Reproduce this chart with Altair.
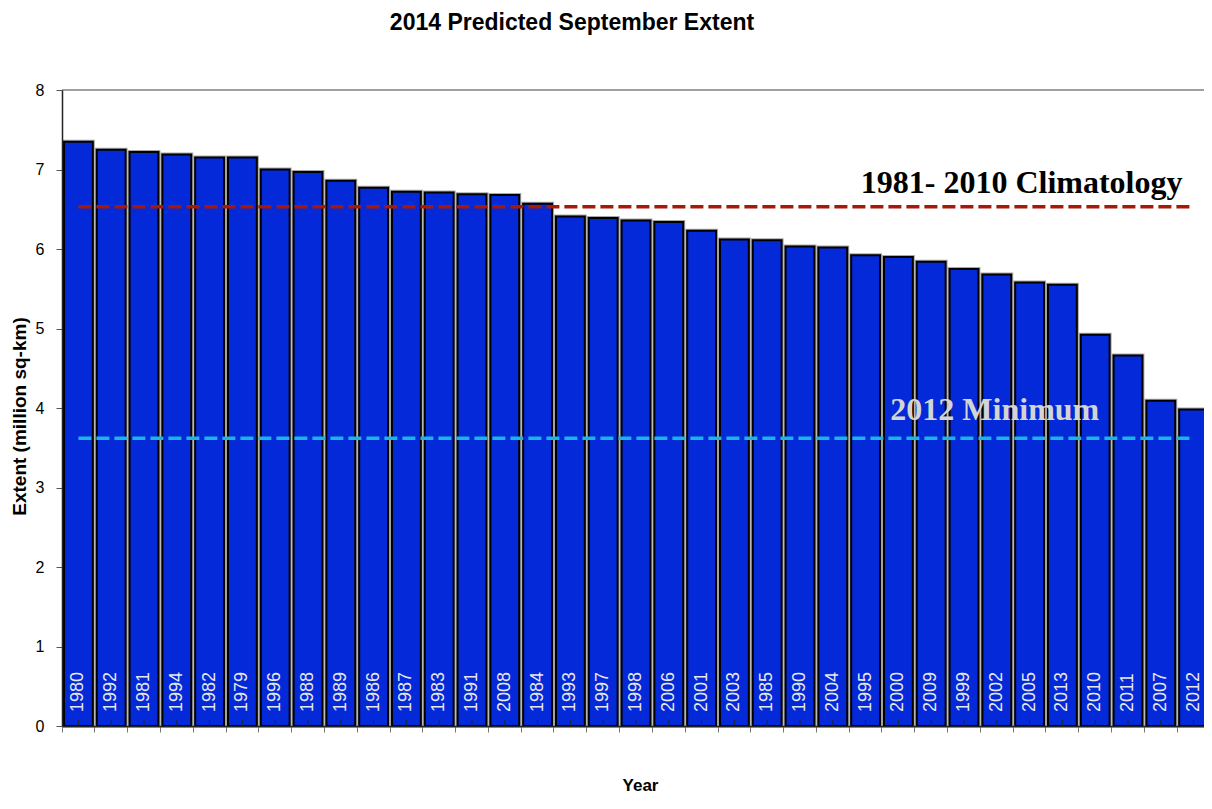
import altair as alt
import pandas as pd

# ---- data ----
years = ["1980", "1992", "1981", "1994", "1982", "1979", "1996", "1988", "1989", "1986",
         "1987", "1983", "1991", "2008", "1984", "1993", "1997", "1998", "2006", "2001",
         "2003", "1985", "1990", "2004", "1995", "2000", "2009", "1999", "2002", "2005",
         "2013", "2010", "2011", "2007", "2012"]
extent = [7.35, 7.25, 7.22, 7.19, 7.15, 7.15, 7.00, 6.97, 6.86, 6.77,
          6.72, 6.71, 6.69, 6.68, 6.57, 6.41, 6.39, 6.36, 6.34, 6.23,
          6.12, 6.11, 6.03, 6.02, 5.92, 5.90, 5.84, 5.75, 5.68, 5.58,
          5.55, 4.92, 4.66, 4.09, 3.98]
climatology = 6.53
minimum_2012 = 3.62
y_ticks = [0, 1, 2, 3, 4, 5, 6, 7, 8]

title_text = "2014 Predicted September Extent"
y_title = "Extent (million sq-km)"
x_title = "Year"
clim_label = "1981- 2010 Climatology"
clim_anchor = "2005"
min_label = "2012 Minimum"
min_anchor = "2002"

df = pd.DataFrame({"Year": years, "Extent": extent})
df["Climatology"] = climatology
df["Minimum"] = minimum_2012
clim_df = pd.DataFrame({"Year": [clim_anchor], "Value": [climatology], "Label": [clim_label]})
min_df = pd.DataFrame({"Year": [min_anchor], "Value": [minimum_2012], "Label": [min_label]})
title_df = pd.DataFrame({"Title": [title_text]})

SANS = "Liberation Sans"
SERIF = "Liberation Serif"

PLOT_W = 1142   # visible plot width (the last bar is cut off at the right edge)
BAND_RANGE = 1148

x_axis = alt.Axis(title=x_title, labels=False, bandPosition=0, tickSize=6,
                  tickColor="#777777", domainColor="#222222", domainWidth=1.5,
                  titleFont=SANS, titleFontSize=17, titleFontWeight="bold",
                  titleColor="black", titleBaseline="middle", titleY=59, titleX=578,
                  zindex=1)
x_scale = alt.Scale(domain=years, paddingInner=0, paddingOuter=0, range=[0, BAND_RANGE])
x_enc = alt.X("Year:N", sort=years, scale=x_scale, axis=x_axis)

y_axis = alt.Axis(values=y_ticks, format="d", grid=False, domainColor="#222222",
                  domainWidth=1.5, tickColor="#555555", tickSize=6, labelFont=SANS,
                  labelFontSize=16, labelColor="black", labelPadding=12, titleFont=SANS,
                  titleFontSize=19, titleFontWeight="bold", titleColor="black",
                  titleBaseline="middle", titleX=-43, titleY=326, titleAngle=270, zindex=1)
y_scale = alt.Scale(domain=[0, 8], nice=False)


def yq(field):
    return alt.Y(field, scale=y_scale, axis=y_axis, title=y_title)


base = alt.Chart(df)

halo = base.mark_bar(width=alt.RelativeBandSize(0.88), fill="#a8a8a8",
                     stroke="#a8a8a8", strokeWidth=4).encode(x=x_enc, y=yq("Extent:Q"))
bars = base.mark_bar(width=alt.RelativeBandSize(0.88), fill="#0429D9",
                     stroke="#000000", strokeWidth=2).encode(x=x_enc, y=yq("Extent:Q"))
minor = base.mark_rule(color="#222222", strokeWidth=1).encode(
    x=x_enc, y=alt.datum(0), y2=alt.datum(0.07))
labels = base.mark_text(angle=270, align="left", baseline="middle", dx=14,
                        font=SANS, fontSize=18, color="#e8e8e8").encode(
    x=x_enc, y=alt.datum(0), text="Year:N")

clim_line = base.mark_line(color="#A81808", strokeWidth=3.5, strokeDash=[13, 5]).encode(
    x=x_enc, y=yq("Climatology:Q"))
min_line = base.mark_line(color="#1BB4E4", strokeWidth=3.5, strokeDash=[13, 5]).encode(
    x=x_enc, y=yq("Minimum:Q"))

clim_text = alt.Chart(clim_df).mark_text(font=SERIF, fontSize=32, fontWeight="bold",
                                         color="black", align="center",
                                         baseline="alphabetic", dx=-8, dy=-14).encode(
    x=x_enc, y=yq("Value:Q"), text="Label:N")
min_text = alt.Chart(min_df).mark_text(font=SERIF, fontSize=32, fontWeight="bold",
                                       color="#d4d4d4", align="center",
                                       baseline="alphabetic", dx=-2, dy=-18).encode(
    x=x_enc, y=yq("Value:Q"), text="Label:N")

# grey frame line along the top of the plot area
top_line = alt.Chart(df).mark_rule(color="#a0a0a0", strokeWidth=2).encode(
    y=alt.value(0))

# chart title, drawn as a text mark above the plot area
title_mark = alt.Chart(title_df).mark_text(font=SANS, fontSize=23, fontWeight="bold",
                                           color="black", align="center",
                                           baseline="alphabetic").encode(
    x=alt.value(510), y=alt.value(-60), text="Title:N")

chart = alt.layer(top_line, halo, bars, minor, labels, clim_line, min_line,
                  clim_text, min_text, title_mark).properties(
    width=PLOT_W,
    height=636,
    autosize=alt.AutoSizeParams(type="none"),
    padding={"left": 54, "top": 82, "right": 0, "bottom": 70},
).configure_view(stroke=None).configure(background="white")

chart.save("out.html", embed_options={"renderer": "svg", "actions": False})
